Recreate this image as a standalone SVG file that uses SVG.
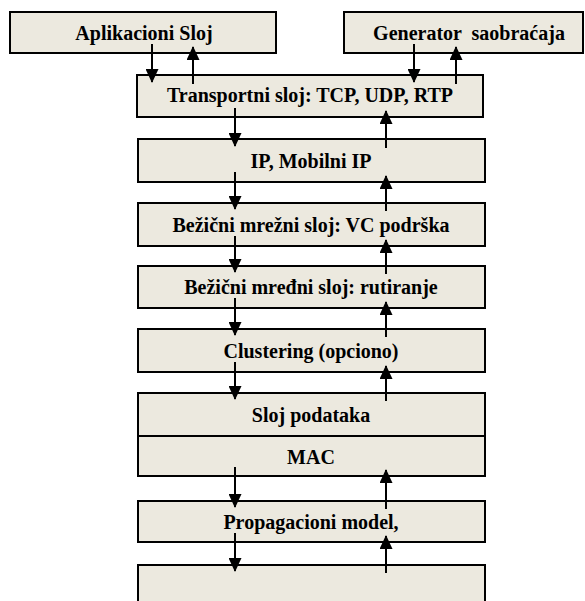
<svg xmlns="http://www.w3.org/2000/svg" width="585" height="601" viewBox="0 0 585 601">
<style>
.box{fill:#ECE9DF;stroke:#000;stroke-width:2}
.t{font-family:"Liberation Serif","Times New Roman",serif;font-weight:bold;font-size:20px;fill:#000;text-anchor:middle;white-space:pre}
.c{stroke:#000;stroke-width:2;fill:none;marker-end:url(#ah)}
</style>
<defs>
<marker id="ah" viewBox="0 0 14 13" refX="13" refY="6.5" markerWidth="14" markerHeight="13" markerUnits="userSpaceOnUse" orient="auto">
<path d="M0,0 L14,6.5 L0,13 z" fill="#000"/>
</marker>
</defs>
<rect width="585" height="601" fill="#fff"/>
<g id="app"><rect class="box" x="10" y="12" width="266" height="41"/><text class="t" x="144" y="40">Aplikacioni Sloj</text></g>
<g id="gen"><rect class="box" x="344" y="12" width="239" height="41"/><text class="t" x="469" y="40">Generator  saobraćaja</text></g>
<g id="transport"><rect class="box" x="137" y="75" width="346" height="42"/><text class="t" x="310" y="102">Transportni sloj: TCP, UDP, RTP</text></g>
<g id="ip"><rect class="box" x="138" y="139" width="347" height="43"/><text class="t" x="311" y="168">IP, Mobilni IP</text></g>
<g id="vc"><rect class="box" x="138" y="203" width="347" height="43"/><text class="t" x="311" y="232">Bežični mrežni sloj: VC podrška</text></g>
<g id="rut"><rect class="box" x="138" y="266" width="347" height="42"/><text class="t" x="311" y="294">Bežični mređni sloj: rutiranje</text></g>
<g id="clust"><rect class="box" x="138" y="329" width="347" height="43"/><text class="t" x="311" y="358">Clustering (opciono)</text></g>
<g id="sloj"><rect class="box" x="138" y="393" width="347" height="43"/><text class="t" x="311" y="422">Sloj podataka</text></g>
<g id="mac"><rect class="box" x="138" y="436" width="347" height="40"/><text class="t" x="311" y="464">MAC</text></g>
<g id="prop"><rect class="box" x="138" y="501" width="347" height="41"/><text class="t" x="311" y="529">Propagacioni model,</text></g>
<g id="last"><rect class="box" x="138" y="565" width="347" height="50"/></g>
<g id="connectors">
<path class="c" d="M152,44 V82"/>
<path class="c" d="M193,84 V47"/>
<path class="c" d="M414,44 V82"/>
<path class="c" d="M456,84 V47"/>
<path class="c" d="M235,108 V146"/>
<path class="c" d="M386,148 V111"/>
<path class="c" d="M235,172 V209"/>
<path class="c" d="M386,211 V176"/>
<path class="c" d="M235,236 V272"/>
<path class="c" d="M386,274 V240"/>
<path class="c" d="M235,298 V335"/>
<path class="c" d="M386,337 V302"/>
<path class="c" d="M235,362 V399"/>
<path class="c" d="M386,401 V366"/>
<path class="c" d="M235,467 V507"/>
<path class="c" d="M386,509 V470"/>
<path class="c" d="M235,533 V571"/>
<path class="c" d="M386,573 V536"/>
</g>
</svg>
